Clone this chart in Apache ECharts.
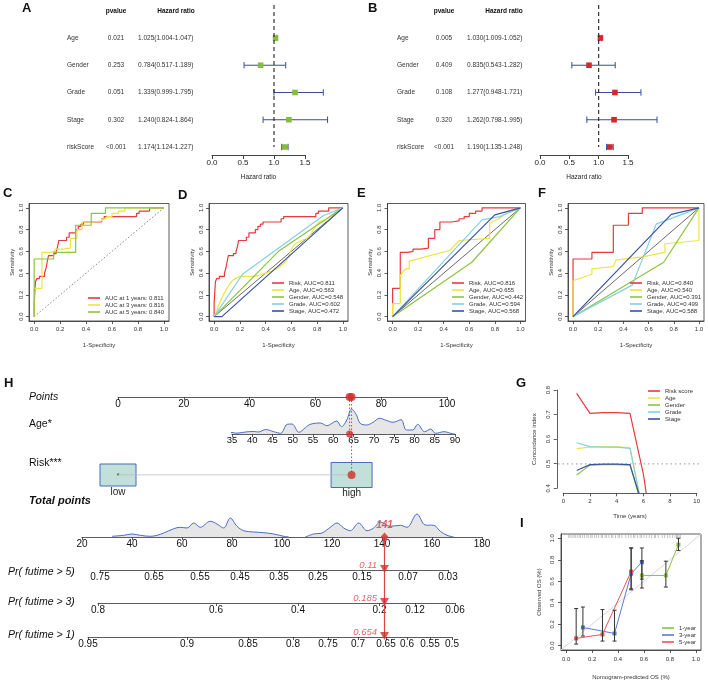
<!DOCTYPE html>
<html>
<head>
<meta charset="utf-8">
<title>Prognostic signature figure</title>
<script src="https://cdn.jsdelivr.net/npm/echarts@6.0.0/dist/echarts.min.js"></script>
<style>html,body{margin:0;padding:0;background:#fff}#chart{width:708px;height:680px}</style>
</head>
<body>
<div id="chart"></div>
<script>
const FF = "'Liberation Sans', Arial, Helvetica, sans-serif";

// ================= DATA =================
// A / B : forest plots
const forestVars = ['Age', 'Gender', 'Grade', 'Stage', 'riskScore'];
const uniP  = ['0.021', '0.253', '0.051', '0.302', '<0.001'];
const uniHR = [1.025, 0.784, 1.339, 1.240, 1.174];
const uniLo = [1.004, 0.517, 0.999, 0.824, 1.124];
const uniHi = [1.047, 1.189, 1.795, 1.864, 1.227];
const multiP  = ['0.005', '0.409', '0.108', '0.320', '<0.001'];
const multiHR = [1.030, 0.835, 1.277, 1.262, 1.190];
const multiLo = [1.009, 0.543, 0.948, 0.798, 1.135];
const multiHi = [1.052, 1.282, 1.721, 1.995, 1.248];

// C-F : ROC curves
const rocTicks = [0, 0.2, 0.4, 0.6, 0.8, 1.0];
const rocYears = [1, 3, 5];
const aucTime  = [0.811, 0.816, 0.840];
const rocVars  = ['Risk', 'Age', 'Gender', 'Grade', 'Stage'];
const aucYear1 = [0.811, 0.563, 0.548, 0.602, 0.472];
const aucYear3 = [0.816, 0.655, 0.442, 0.594, 0.568];
const aucYear5 = [0.840, 0.540, 0.391, 0.499, 0.588];
const rocRisk1 = [[0,0],[0,0.12],[0.005,0.12],[0.005,0.23],[0.01,0.23],[0.01,0.32],[0.02,0.32],[0.02,0.35],[0.04,0.35],[0.04,0.37],[0.08,0.37],[0.08,0.40],[0.09,0.40],[0.09,0.44],[0.1,0.44],[0.1,0.5],[0.11,0.5],[0.11,0.56],[0.15,0.56],[0.15,0.58],[0.17,0.58],[0.17,0.6],[0.18,0.6],[0.18,0.64],[0.19,0.64],[0.19,0.70],[0.25,0.70],[0.25,0.73],[0.27,0.73],[0.27,0.77],[0.32,0.77],[0.32,0.8],[0.34,0.8],[0.34,0.83],[0.36,0.83],[0.36,0.85],[0.38,0.85],[0.38,0.87],[0.52,0.87],[0.52,0.9],[0.54,0.9],[0.54,0.92],[0.79,0.92],[0.79,0.95],[0.81,0.95],[0.81,0.97],[0.89,0.97],[0.89,1],[1,1]];
const rocRisk3 = [[0,0],[0,0.26],[0.06,0.26],[0.06,0.59],[0.12,0.59],[0.12,0.6],[0.16,0.6],[0.16,0.62],[0.22,0.62],[0.22,0.63],[0.28,0.63],[0.28,0.72],[0.33,0.72],[0.33,0.8],[0.37,0.8],[0.37,0.87],[0.46,0.87],[0.46,0.88],[0.52,0.88],[0.52,0.9],[0.56,0.9],[0.56,0.92],[0.6,0.92],[0.6,0.95],[0.65,0.95],[0.65,0.97],[0.7,0.97],[0.7,1],[1,1]];
const rocRisk5 = [[0,0],[0,0.53],[0.15,0.53],[0.15,0.59],[0.32,0.59],[0.32,0.84],[0.44,0.84],[0.44,0.95],[0.55,0.95],[0.55,1],[1,1]];
const rocAge1    = [[0,0],[0.02,0.05],[0.04,0.12],[0.07,0.2],[0.1,0.26],[0.12,0.3],[0.15,0.34],[0.2,0.37],[0.3,0.37],[0.35,0.38],[0.4,0.4],[0.45,0.42],[0.5,0.45],[0.55,0.5],[0.58,0.55],[0.6,0.62],[0.63,0.67],[0.68,0.7],[0.72,0.72],[0.75,0.75],[0.78,0.82],[0.8,0.85],[0.83,0.88],[0.88,0.88],[0.92,0.93],[0.95,0.97],[1,1]];
const rocGender1 = [[0,0],[0.5,0.6],[1,1]];
const rocGrade1  = [[0,0],[0.22,0.39],[0.85,0.93],[1,1]];
const rocStage1  = [[0,0],[0.06,0],[1,1]];
const rocAge3    = [[0,0],[0,0.12],[0.06,0.12],[0.06,0.38],[0.1,0.44],[0.13,0.44],[0.13,0.51],[0.45,0.61],[0.52,0.7],[0.76,0.72],[0.76,0.86],[0.83,0.9],[0.9,0.96],[1,1]];
const rocGender3 = [[0,0],[0.62,0.5],[1,1]];
const rocGrade3  = [[0,0],[0.7,0.89],[0.84,0.92],[1,1]];
const rocStage3  = [[0,0],[0.8,0.935],[1,1]];
const rocAge5    = [[0,0],[0,0.33],[0.15,0.39],[0.15,0.44],[0.32,0.46],[0.34,0.52],[0.55,0.55],[0.73,0.59],[0.73,0.67],[1,0.7],[1,1]];
const rocGender5 = [[0,0],[0.72,0.5],[1,1]];
const rocGrade5  = [[0,0],[0.47,0.29],[0.66,0.85],[1,1]];
const rocStage5  = [[0,0],[0.78,0.94],[1,1]];

// G : C-index over time
const cTime   = [1, 2, 3, 4, 5, 6, 7];
const cRisk   = [0.786, 0.705, 0.708, 0.708, 0.705, 0.46, 0.10];
const cAge    = [0.562, 0.568, 0.570, 0.570, 0.565, 0.30, null];
const cGender = [0.455, 0.495, 0.497, 0.497, 0.495, 0.31, null];
const cGrade  = [0.586, 0.570, 0.568, 0.568, 0.563, 0.30, null];
const cStage  = [0.473, 0.497, 0.499, 0.499, 0.497, 0.32, null];
const cNames  = ['Risk score', 'Age', 'Gender', 'Grade', 'Stage'];

// H : nomogram
const ageDens = [[34,0],[35,1.5],[36,0.8],[37.5,1.5],[39,2.3],[40.5,2.5],[41.5,2],[43.3,4.5],[45.3,2.3],[47,0.7],[48.6,9.7],[49.8,10],[51.5,1.7],[53.1,6.3],[54.3,9.7],[56.8,11],[58.4,8.3],[60.8,13],[62,7.3],[63.3,14],[64.5,25],[65.7,19],[66.6,10.7],[68.2,9],[69.8,11.7],[71.4,15.7],[73,13.7],[74.7,11.7],[76.7,14.3],[78,4],[79.6,4],[80.8,9.7],[82.5,2.3],[84,5],[85.2,0.7],[87.3,2.3],[89.3,0.3],[90,0]];
const riskLevels = ['low', 'high'];
const riskPoints = [0, 71];
const obsAge = 64, obsAgePoints = 70.4, obsRiskIndex = 1;
const totalDens = [[32,0.7],[36.7,1.7],[40,3],[43.3,1.7],[47.3,0.7],[50,1.7],[52.7,4],[56.7,8.3],[59.3,9.7],[62,9],[64.7,14],[67.3,9.7],[71.3,15.7],[74,13],[76.7,9],[79.3,19],[82,10.7],[84.7,6.3],[88.7,5],[92.7,4.3],[96.7,3],[100.7,0.7],[102.7,0],[106,'-'],[109.3,0],[112.7,3],[116,4],[119.3,9.7],[122,14],[124.7,9],[127.3,6.3],[130.7,14],[134,6.3],[136.7,9],[139.3,15],[143.3,10.7],[147.3,11.7],[150,9.7],[154,23],[157.3,12],[160.7,11.7],[163.3,5.7],[166,1.7],[168.7,0]];
const obsTotal = 141;
const pr5Labels = ['0.75','0.65','0.55','0.45','0.35','0.25','0.15','0.07','0.03'];
const pr5Pos    = [27.2, 48.8, 67.2, 83.2, 98.8, 114.4, 132, 150.4, 166.4];
const pr3Labels = ['0.8','0.6','0.4','0.2','0.12','0.06'];
const pr3Pos    = [26.4, 73.6, 106.4, 139, 153.2, 169.2];
const pr1Labels = ['0.95','0.9','0.85','0.8','0.75','0.7','0.65','0.6','0.55','0.5'];
const pr1Pos    = [22.4, 62, 86.4, 104.4, 118.4, 130.4, 141.6, 150, 159.2, 168];
const obsPr = ['0.11', '0.185', '0.654'];

// I : calibration
const cal1X = [0.584, 0.769, 0.866], cal1Y = [0.654, 0.654, 0.941], cal1Lo = [0.537, 0.546, 0.886], cal1Hi = [0.79, 0.787, 1.0];
const cal3X = [0.129, 0.373, 0.501, 0.584], cal3Y = [0.170, 0.114, 0.67, 0.778], cal3Lo = [0.09, 0.043, 0.53, 0.62], cal3Hi = [0.36, 0.33, 0.91, 0.91];
const cal5X = [0.077, 0.28, 0.501], cal5Y = [0.068, 0.105, 0.69], cal5Lo = [0.015, 0.043, 0.52], cal5Hi = [0.346, 0.336, 0.91];
const calRug = [0.02,0.03,0.045,0.06,0.07,0.085,0.1,0.11,0.125,0.14,0.16,0.17,0.19,0.2,0.22,0.235,0.25,0.27,0.28,0.3,0.31,0.33,0.35,0.36,0.38,0.4,0.41,0.43,0.46,0.48,0.5,0.52,0.53,0.55,0.57,0.58,0.6,0.62,0.64,0.66,0.68,0.69,0.71,0.74,0.76,0.78,0.8,0.82,0.84,0.85,0.86,0.87,0.88];

// ================= BUILD =================
const RED = '#E8393F', YEL = '#ECE540', GRN = '#8CC342', CYN = '#86D0DF', BLU = '#3A53A4';
const grids = [], xAxes = [], yAxes = [], series = [], legends = [], graphics = [];

function txt(x, y, s, size, opt) {
  opt = opt || {};
  graphics.push({type: 'text', x: x, y: y, silent: true, z: 100,
    style: {text: s, fill: opt.color || '#111', align: opt.align || 'left', verticalAlign: 'middle',
      font: (opt.style || 'normal') + ' ' + (opt.weight || 'normal') + ' ' + size + 'px ' + FF}});
}
function addGrid(g) { grids.push(Object.assign({containLabel: false, outerBoundsMode: 'none'}, g)); return grids.length - 1; }
function addX(a) { xAxes.push(Object.assign({type: 'value', position: 'bottom', nameMoveOverlap: false}, a)); return xAxes.length - 1; }
function addY(a) { yAxes.push(Object.assign({type: 'value', position: 'left', nameMoveOverlap: false}, a)); return yAxes.length - 1; }
const hidden = (min, max, extra) => Object.assign({show: false, min: min, max: max}, extra || {});
const tickStyle = (len, custom) => Object.assign({show: true, length: len, lineStyle: {color: '#333', width: 0.8}}, custom ? {customValues: custom} : {});
const lineAx = {show: true, onZero: false, lineStyle: {color: '#333', width: 0.8}};
const nameTS = {fontSize: 6, color: '#333', fontFamily: FF};

// ---------- Forest plots ----------
function forestPanel(cfg) {
  const rowMin = -0.211, rowMax = 5.294, rows = [1, 2, 3, 4, 5];
  const gi = addGrid({left: cfg.axisLeft, top: 5, width: cfg.axisWidth, height: 150});
  const xi = addX({gridIndex: gi, min: 0, max: 1.5, interval: 0.5, axisLine: {show: true, onZero: false, lineStyle: {color: '#444', width: 1}},
    axisTick: {show: true, length: 4, lineStyle: {color: '#444', width: 1}}, splitLine: {show: false},
    axisLabel: {fontSize: 8, color: '#222', fontFamily: FF, margin: 4, formatter: v => v.toFixed(1)},
    name: 'Hazard ratio', nameLocation: 'middle', nameGap: 19, nameTextStyle: {fontSize: 6.5, color: '#222', fontFamily: FF}});
  const yBase = {gridIndex: gi, min: rowMin, max: rowMax, inverse: true, axisLine: {show: false, onZero: false}, axisTick: {show: false}, splitLine: {show: false}};
  const yi = addY(Object.assign({}, yBase, {axisLabel: {show: false}}));
  const hrText = cfg.hr.map((h, i) => h.toFixed(3) + '(' + cfg.lo[i].toFixed(3) + '-' + cfg.hi[i].toFixed(3) + ')');
  [[forestVars, cfg.nameX, 'left'], [cfg.p, cfg.pX, 'center'], [hrText, cfg.hrX, 'left']].forEach(c => {
    addY(Object.assign({}, yBase, {axisLabel: {customValues: rows, formatter: v => c[0][Math.round(v) - 1],
      align: c[2], margin: cfg.axisLeft - c[1], fontSize: 6.5, color: '#333', fontFamily: FF}}));
  });
  series.push({type: 'line', xAxisIndex: xi, yAxisIndex: yi, data: [[1, rowMin], [1, 5]], showSymbol: false, silent: true,
    lineStyle: {color: '#222', width: 1.1, type: [4, 3]}});
  series.push({type: 'custom', xAxisIndex: xi, yAxisIndex: yi, clip: false, silent: true,
    data: rows.map((r, i) => [r, cfg.hr[i], cfg.lo[i], cfg.hi[i]]), encode: {x: [1, 2, 3], y: 0},
    renderItem: (params, api) => {
      const r = api.value(0);
      const pc = api.coord([api.value(1), r]), pl = api.coord([api.value(2), r]), ph = api.coord([api.value(3), r]);
      const ls = {stroke: '#3b4a9e', lineWidth: 1}, cap = 3.2, s = 2.8;
      return {type: 'group', children: [
        {type: 'line', shape: {x1: pl[0], y1: pl[1], x2: ph[0], y2: ph[1]}, style: ls},
        {type: 'line', shape: {x1: pl[0], y1: pl[1] - cap, x2: pl[0], y2: pl[1] + cap}, style: ls},
        {type: 'line', shape: {x1: ph[0], y1: ph[1] - cap, x2: ph[0], y2: ph[1] + cap}, style: ls},
        {type: 'rect', shape: {x: pc[0] - s, y: pc[1] - s, width: 2 * s, height: 2 * s}, style: {fill: cfg.color}}
      ]};
    }});
  txt(cfg.pX, 11, 'pvalue', 6.5, {align: 'center', weight: 'bold'});
  txt(cfg.headX, 11, 'Hazard ratio', 6.5, {align: 'center', weight: 'bold'});
}
forestPanel({axisLeft: 212, axisWidth: 93, nameX: 67, pX: 116, hrX: 138, headX: 176, color: '#86BC3E', p: uniP, hr: uniHR, lo: uniLo, hi: uniHi});
forestPanel({axisLeft: 540, axisWidth: 88, nameX: 397, pX: 444, hrX: 467, headX: 504, color: '#D8262B', p: multiP, hr: multiHR, lo: multiLo, hi: multiHi});

// ---------- ROC panels ----------
function rocPanel(cfg) {
  const gi = addGrid({left: cfg.left, top: 203.5, width: cfg.width, height: 117.5, show: true, borderColor: '#333', borderWidth: 0.8, backgroundColor: 'rgba(0,0,0,0)'});
  const xi = addX({gridIndex: gi, min: -0.04, max: 1.04, axisLine: lineAx, splitLine: {show: false}, axisTick: tickStyle(3, rocTicks),
    axisLabel: {customValues: rocTicks, formatter: v => v.toFixed(1), fontSize: 6, color: '#333', margin: 5, fontFamily: FF},
    name: '1-Specificity', nameLocation: 'middle', nameGap: 21, nameTextStyle: nameTS});
  const yi = addY({gridIndex: gi, min: -0.04, max: 1.04, axisLine: lineAx, splitLine: {show: false}, axisTick: tickStyle(3, rocTicks),
    axisLabel: {customValues: rocTicks, formatter: v => v.toFixed(1), fontSize: 6, color: '#333', margin: 5, rotate: 90, fontFamily: FF},
    name: 'Sensitivity', nameLocation: 'middle', nameGap: 14, nameTextStyle: nameTS});
  series.push({type: 'line', xAxisIndex: xi, yAxisIndex: yi, data: [[0, 0], [1, 1]], showSymbol: false, silent: true,
    lineStyle: {color: cfg.dotted ? '#666' : '#444', width: 0.8, type: cfg.dotted ? [1.5, 2] : 'solid'}});
  cfg.curves.forEach((c, i) => series.push({type: 'line', name: cfg.names[i], xAxisIndex: xi, yAxisIndex: yi, data: c, showSymbol: false,
    lineStyle: {color: cfg.colors[i], width: 1.2}, itemStyle: {color: cfg.colors[i]}}));
  legends.push({data: cfg.names, orient: 'vertical', left: cfg.legLeft, top: cfg.legTop, itemWidth: 12, itemHeight: 1.6, itemGap: 0,
    icon: 'rect', padding: 0, selectedMode: false, textStyle: {fontSize: 6, lineHeight: 7, color: '#333', fontFamily: FF}});
  txt(cfg.letterX, cfg.letterY, cfg.letter, 13, {weight: 'bold'});
}
const fiveColors = [RED, YEL, GRN, CYN, BLU];
rocPanel({letter: 'C', letterX: 3, letterY: 193, left: 29, width: 140, dotted: true, curves: [rocRisk1, rocRisk3, rocRisk5],
  names: rocYears.map((y, i) => 'AUC at ' + y + ' years: ' + aucTime[i].toFixed(3)), colors: [RED, YEL, GRN], legLeft: 88, legTop: 294.5});
rocPanel({letter: 'D', letterX: 178, letterY: 195, left: 209, width: 139, curves: [rocRisk1, rocAge1, rocGender1, rocGrade1, rocStage1],
  names: rocVars.map((v, i) => v + ', AUC=' + aucYear1[i].toFixed(3)), colors: fiveColors, legLeft: 272, legTop: 279.5});
rocPanel({letter: 'E', letterX: 357, letterY: 193, left: 387.5, width: 138, curves: [rocRisk3, rocAge3, rocGender3, rocGrade3, rocStage3],
  names: rocVars.map((v, i) => v + ', AUC=' + aucYear3[i].toFixed(3)), colors: fiveColors, legLeft: 452, legTop: 279.5});
rocPanel({letter: 'F', letterX: 538, letterY: 193, left: 568, width: 136, curves: [rocRisk5, rocAge5, rocGender5, rocGrade5, rocStage5],
  names: rocVars.map((v, i) => v + ', AUC=' + aucYear5[i].toFixed(3)), colors: fiveColors, legLeft: 630, legTop: 279.5});

// ---------- G : C-index ----------
(function () {
  const gd = addGrid({left: 558, top: 386, width: 144, height: 106.5});
  const xd = addX(hidden(-0.4, 10.4, {gridIndex: gd}));
  const yd = addY(hidden(0.384, 0.816, {gridIndex: gd}));
  const ga = addGrid({left: 563.3, top: 390, width: 133.4, height: 98.3});
  addX({gridIndex: ga, min: 0, max: 10, interval: 2, offset: 5, axisLine: lineAx, axisTick: tickStyle(3), splitLine: {show: false},
    axisLabel: {fontSize: 6, color: '#333', margin: 5, fontFamily: FF},
    name: 'Time (years)', nameLocation: 'middle', nameGap: 20, nameTextStyle: nameTS});
  addY({gridIndex: ga, min: 0.4, max: 0.8, interval: 0.1, offset: 6.5, axisLine: lineAx, axisTick: tickStyle(3), splitLine: {show: false},
    axisLabel: {fontSize: 6, color: '#333', margin: 5, rotate: 90, fontFamily: FF, formatter: v => v.toFixed(1)},
    name: 'Concordance index', nameLocation: 'middle', nameGap: 19, nameTextStyle: nameTS});
  series.push({type: 'line', xAxisIndex: xd, yAxisIndex: yd, data: [[-0.4, 0.5], [10.4, 0.5]], showSymbol: false, silent: true,
    lineStyle: {color: '#aaa', width: 1.2, type: [1.5, 3]}});
  [cRisk, cAge, cGender, cGrade, cStage].forEach((arr, i) => series.push({type: 'line', name: cNames[i], xAxisIndex: xd, yAxisIndex: yd,
    data: cTime.map((t, j) => [t, arr[j]]).filter(p => p[1] !== null), showSymbol: false,
    lineStyle: {color: fiveColors[i], width: 1.2}, itemStyle: {color: fiveColors[i]}}));
  legends.push({data: cNames, orient: 'vertical', left: 648, top: 387.5, itemWidth: 12, itemHeight: 1.6, itemGap: 0, icon: 'rect', padding: 0,
    selectedMode: false, textStyle: {fontSize: 6, lineHeight: 7, color: '#333', fontFamily: FF}});
  txt(516, 383, 'G', 13, {weight: 'bold'});
})();

// ---------- H : nomogram ----------
(function () {
  const hStyle = {fontSize: 10, color: '#111', fontFamily: FF};
  // Points axis
  const gp = addGrid({left: 118, top: 396, width: 329, height: 1});
  addX({gridIndex: gp, min: 0, max: 100, interval: 20, axisLine: lineAx, axisTick: tickStyle(3), splitLine: {show: false},
    axisLabel: Object.assign({margin: 2}, hStyle)});
  addY(hidden(0, 1, {gridIndex: gp}));
  // Age axis + density
  const ga = addGrid({left: 232, top: 409, width: 223, height: 25});
  const xa = addX({gridIndex: ga, min: 35, max: 90, interval: 5, axisLine: lineAx, axisTick: tickStyle(3), splitLine: {show: false},
    axisLabel: Object.assign({margin: 1}, hStyle, {fontSize: 9.5})});
  const ya = addY(hidden(0, 25, {gridIndex: ga}));
  series.push({type: 'line', xAxisIndex: xa, yAxisIndex: ya, data: ageDens, smooth: 0.35, showSymbol: false, silent: true, clip: false,
    lineStyle: {color: '#4A6CC4', width: 1}, areaStyle: {color: '#e6e6e6', opacity: 1}});
  series.push({type: 'scatter', xAxisIndex: xa, yAxisIndex: ya, data: [[obsAge, 0]], symbolSize: 7, itemStyle: {color: '#D42A2A'}, silent: true, z: 5});
  // Overlay: risk row, dotted connectors (y = pixel rows below points axis)
  const AGE_ROW = 37, RISK_ROW = 78;
  const go = addGrid({left: 118, top: 397, width: 329, height: 78});
  const xo = addX(hidden(0, 100, {gridIndex: go}));
  const yo = addY(hidden(0, 78, {gridIndex: go, inverse: true}));
  series.push({type: 'line', xAxisIndex: xo, yAxisIndex: yo, data: riskPoints.map(p => [p, RISK_ROW]), showSymbol: false, silent: true,
    lineStyle: {color: '#bbb', width: 1}});
  const BOX_W = [36, 41], BOX_H = [22, 25];
  series.push({type: 'custom', xAxisIndex: xo, yAxisIndex: yo, clip: false, silent: true,
    data: riskPoints.map((p, i) => [p, RISK_ROW, i]),
    renderItem: (params, api) => {
      const i = api.value(2), c = api.coord([api.value(0), api.value(1)]);
      const w = BOX_W[i], h = BOX_H[i];
      const ch = [{type: 'rect', shape: {x: c[0] - w / 2, y: c[1] - h / 2, width: w, height: h}, style: {fill: '#C0E0D9', stroke: '#4A6CB8', lineWidth: 1}},
        {type: 'text', x: c[0], y: c[1] + h / 2 + 6, style: {text: riskLevels[i], fill: '#222', align: 'center', verticalAlign: 'middle', font: '10px ' + FF}}];
      if (i !== obsRiskIndex) ch.push({type: 'text', x: c[0], y: c[1] + 1, style: {text: '*', fill: '#222', align: 'center', verticalAlign: 'middle', font: '7px ' + FF}});
      return {type: 'group', children: ch};
    }});
  series.push({type: 'line', xAxisIndex: xo, yAxisIndex: yo, data: [[obsAgePoints, 0], [obsAgePoints, AGE_ROW]], showSymbol: false, silent: true,
    lineStyle: {color: '#E03A3A', width: 1, type: [1.5, 2]}});
  series.push({type: 'line', xAxisIndex: xo, yAxisIndex: yo, data: [[riskPoints[obsRiskIndex], 0], [riskPoints[obsRiskIndex], RISK_ROW]], showSymbol: false, silent: true,
    lineStyle: {color: '#E03A3A', width: 1, type: [1.5, 2]}});
  series.push({type: 'scatter', xAxisIndex: xo, yAxisIndex: yo, silent: true, z: 6, symbolSize: 8, itemStyle: {color: '#D42A2A'},
    data: [[obsAgePoints, 0], [riskPoints[obsRiskIndex], 0], [riskPoints[obsRiskIndex], RISK_ROW]]});

  // Total points axis + density
  const TOT_L = 82, TOT_W = 400, TOT_MIN = 20, TOT_MAX = 180;
  const gt = addGrid({left: TOT_L, top: 512, width: TOT_W, height: 25});
  const xt = addX({gridIndex: gt, min: TOT_MIN, max: TOT_MAX, interval: 20, axisLine: lineAx, axisTick: tickStyle(3), splitLine: {show: false},
    axisLabel: Object.assign({margin: 2}, hStyle)});
  const yt = addY(hidden(0, 25, {gridIndex: gt}));
  series.push({type: 'line', xAxisIndex: xt, yAxisIndex: yt, data: totalDens, smooth: 0.35, showSymbol: false, silent: true, connectNulls: false,
    lineStyle: {color: '#4A6CC4', width: 1}, areaStyle: {color: '#e6e6e6', opacity: 1}});
  series.push({type: 'scatter', xAxisIndex: xt, yAxisIndex: yt, data: [[obsTotal, 0]], symbol: 'diamond', symbolSize: [8, 9], silent: true, z: 6,
    itemStyle: {color: '#D42A2A'},
    label: {show: true, position: 'top', distance: 2, formatter: String(obsTotal), color: '#E03A3A', fontSize: 10, fontStyle: 'italic', fontWeight: 'bold', fontFamily: FF}});
  // Overlay for prediction rows
  const PR_ROWS = [33, 66, 100];
  const gb = addGrid({left: TOT_L, top: 537, width: TOT_W, height: 100});
  const xb = addX(hidden(TOT_MIN, TOT_MAX, {gridIndex: gb}));
  const yb = addY(hidden(0, 100, {gridIndex: gb, inverse: true}));
  series.push({type: 'line', xAxisIndex: xb, yAxisIndex: yb, data: [[obsTotal, 0], [obsTotal, 100]], showSymbol: false, silent: true,
    lineStyle: {color: '#E04545', width: 1.2}});
  series.push({type: 'scatter', xAxisIndex: xb, yAxisIndex: yb, silent: true, z: 6, symbol: 'triangle', symbolRotate: 180, symbolSize: [9, 8],
    itemStyle: {color: '#D42A2A'},
    data: PR_ROWS.map((r, i) => ({value: [obsTotal, r - 1], label: {formatter: obsPr[i]}})),
    label: {show: true, position: 'left', distance: 3, offset: [0, -4], color: '#E03A3A', fontSize: 9.5, fontStyle: 'italic', fontFamily: FF}});
  // Probability axes
  const toPx = v => TOT_L + (v - TOT_MIN) * TOT_W / (TOT_MAX - TOT_MIN);
  [[pr5Pos, pr5Labels, 570], [pr3Pos, pr3Labels, 603], [pr1Pos, pr1Labels, 637]].forEach(a => {
    const pos = a[0], lab = a[1];
    const g = addGrid({left: toPx(pos[0]), width: toPx(pos[pos.length - 1]) - toPx(pos[0]), top: a[2] - 1, height: 1});
    addX({gridIndex: g, min: pos[0], max: pos[pos.length - 1], axisLine: lineAx, axisTick: tickStyle(3, pos), splitLine: {show: false},
      axisLabel: Object.assign({margin: 2, customValues: pos, formatter: v => lab[pos.indexOf(v)]}, hStyle)});
    addY(hidden(0, 1, {gridIndex: g}));
  });
  txt(4, 383, 'H', 13, {weight: 'bold'});
  txt(29, 397, 'Points', 10.5, {style: 'italic'});
  txt(29, 424, 'Age*', 10.5);
  txt(29, 463, 'Risk***', 10.5);
  txt(29, 501, 'Total points', 11, {style: 'italic', weight: 'bold'});
  txt(8, 572, 'Pr( futime > 5)', 10.5, {style: 'italic'});
  txt(8, 602, 'Pr( futime > 3)', 10.5, {style: 'italic'});
  txt(8, 635, 'Pr( futime > 1)', 10.5, {style: 'italic'});
})();

// ---------- I : calibration ----------
(function () {
  const gi = addGrid({left: 561, top: 534, width: 140, height: 116, show: true, borderColor: '#333', borderWidth: 0.8, backgroundColor: 'rgba(0,0,0,0)'});
  const xi = addX({gridIndex: gi, min: -0.04, max: 1.04, axisLine: lineAx, splitLine: {show: false}, axisTick: tickStyle(3, rocTicks),
    axisLabel: {customValues: rocTicks, formatter: v => v.toFixed(1), fontSize: 6, color: '#333', margin: 6, fontFamily: FF},
    name: 'Nomogram-predicted OS (%)', nameLocation: 'middle', nameGap: 24, nameTextStyle: nameTS});
  const yi = addY({gridIndex: gi, min: -0.04, max: 1.04, axisLine: lineAx, splitLine: {show: false}, axisTick: tickStyle(3, rocTicks),
    axisLabel: {customValues: rocTicks, formatter: v => v.toFixed(1), fontSize: 6, color: '#333', margin: 6, rotate: 90, fontFamily: FF},
    name: 'Observed OS (%)', nameLocation: 'middle', nameGap: 19, nameTextStyle: nameTS});
  series.push({type: 'line', xAxisIndex: xi, yAxisIndex: yi, data: [[-0.04, -0.04], [1.04, 1.04]], showSymbol: false, silent: true,
    lineStyle: {color: '#d8d8d8', width: 1}});
  series.push({type: 'scatter', xAxisIndex: xi, yAxisIndex: yi, data: calRug.map(v => [v, 1.022]), symbol: 'rect', symbolSize: [0.7, 4], silent: true,
    itemStyle: {color: '#999'}});
  const calSets = [['1-year', cal1X, cal1Y, cal1Lo, cal1Hi, '#8CC342'], ['3-year', cal3X, cal3Y, cal3Lo, cal3Hi, '#5A7AD2'], ['5-year', cal5X, cal5Y, cal5Lo, cal5Hi, '#E8555A']];
  calSets.forEach(s => series.push({type: 'line', name: s[0], xAxisIndex: xi, yAxisIndex: yi, data: s[1].map((x, j) => [x, s[2][j]]),
    showSymbol: true, symbol: 'rect', symbolSize: 4, lineStyle: {color: s[5], width: 1}, itemStyle: {color: s[5]}, z: 3}));
  calSets.forEach(s => series.push({type: 'custom', xAxisIndex: xi, yAxisIndex: yi, silent: true, z: 4,
    data: s[1].map((x, j) => [x, s[3][j], s[4][j]]), encode: {x: 0, y: [1, 2]},
    renderItem: (params, api) => {
      const lo = api.coord([api.value(0), api.value(1)]), hi = api.coord([api.value(0), api.value(2)]);
      const st = {stroke: '#333', lineWidth: 1}, c = 2;
      return {type: 'group', children: [
        {type: 'line', shape: {x1: lo[0], y1: lo[1], x2: hi[0], y2: hi[1]}, style: st},
        {type: 'line', shape: {x1: lo[0] - c, y1: lo[1], x2: lo[0] + c, y2: lo[1]}, style: st},
        {type: 'line', shape: {x1: hi[0] - c, y1: hi[1], x2: hi[0] + c, y2: hi[1]}, style: st}]};
    }}));
  legends.push({data: calSets.map(s => s[0]), orient: 'vertical', left: 662, top: 624.5, itemWidth: 12, itemHeight: 1.6, itemGap: 0, icon: 'rect', padding: 0,
    selectedMode: false, textStyle: {fontSize: 6, lineHeight: 7, color: '#333', fontFamily: FF}});
  txt(520, 523, 'I', 13, {weight: 'bold'});
})();

txt(22, 8, 'A', 13, {weight: 'bold'});
txt(368, 8, 'B', 13, {weight: 'bold'});

const chart = echarts.init(document.getElementById('chart'), null, {renderer: 'canvas', width: 708, height: 680});
chart.setOption({
  animation: false,
  backgroundColor: '#fff',
  textStyle: {fontFamily: FF},
  grid: grids, xAxis: xAxes, yAxis: yAxes, series: series, legend: legends,
  graphic: {elements: graphics}
});
</script>
</body>
</html>
